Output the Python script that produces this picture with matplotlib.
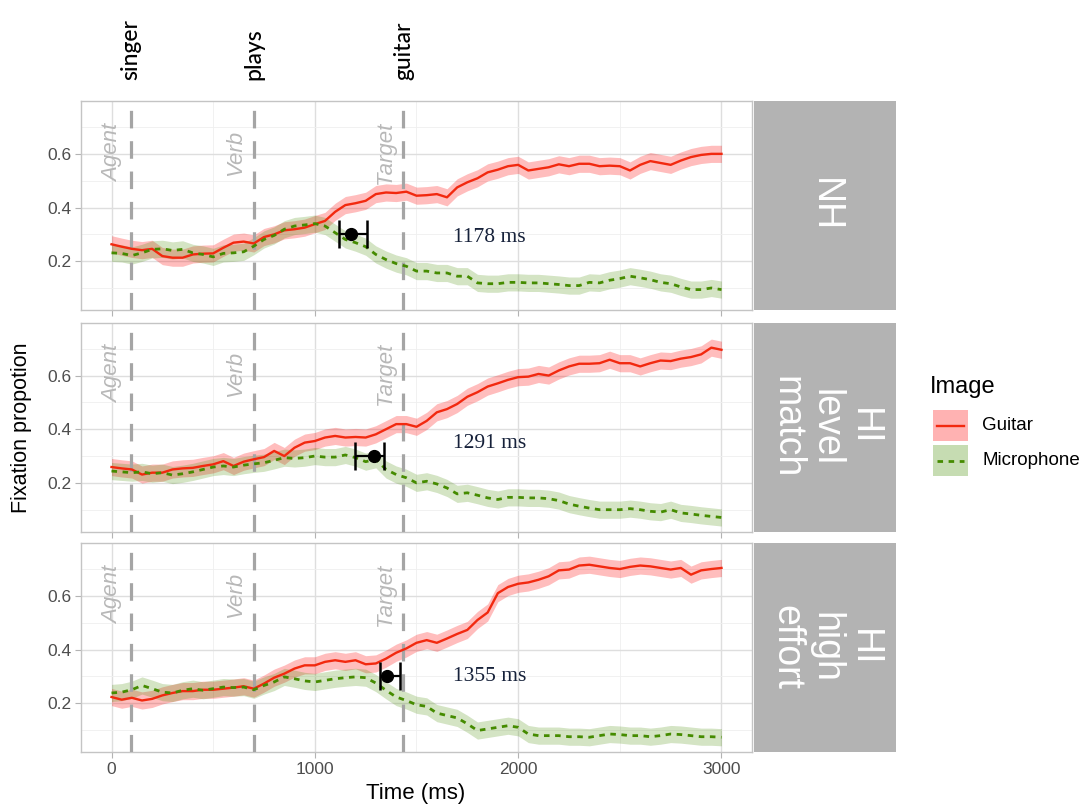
import numpy as np
import matplotlib
matplotlib.use("Agg")
import matplotlib.pyplot as plt
import matplotlib.transforms as mtransforms
from matplotlib.patches import Rectangle

plt.rcParams['font.family'] = ['Liberation Sans', 'DejaVu Sans']

# time bins (ms after sentence onset)
time_ms = np.arange(0, 3001, 50)

guitar_nh = [0.263, 0.254, 0.246, 0.241, 0.246, 0.219, 0.213, 0.213, 0.225, 0.228,
             0.229, 0.250, 0.269, 0.273, 0.266, 0.290, 0.300, 0.315, 0.319, 0.325,
             0.338, 0.350, 0.384, 0.409, 0.416, 0.425, 0.450, 0.456, 0.454, 0.459,
             0.444, 0.446, 0.450, 0.438, 0.475, 0.494, 0.509, 0.531, 0.541, 0.554,
             0.559, 0.538, 0.544, 0.550, 0.561, 0.554, 0.563, 0.563, 0.554, 0.556,
             0.554, 0.538, 0.559, 0.573, 0.566, 0.559, 0.575, 0.588, 0.596, 0.600, 0.600]
mic_nh = [0.231, 0.229, 0.221, 0.231, 0.244, 0.246, 0.240, 0.244, 0.231, 0.225,
          0.216, 0.229, 0.231, 0.235, 0.256, 0.281, 0.296, 0.319, 0.331, 0.335,
          0.340, 0.331, 0.306, 0.281, 0.269, 0.254, 0.225, 0.206, 0.191, 0.181,
          0.163, 0.163, 0.156, 0.156, 0.144, 0.144, 0.119, 0.116, 0.116, 0.121,
          0.121, 0.119, 0.119, 0.116, 0.113, 0.109, 0.109, 0.121, 0.119, 0.129,
          0.135, 0.144, 0.138, 0.131, 0.121, 0.116, 0.104, 0.094, 0.094, 0.100, 0.094]

guitar_level = [0.259, 0.254, 0.250, 0.231, 0.238, 0.238, 0.250, 0.254, 0.256, 0.263,
                0.269, 0.281, 0.263, 0.279, 0.288, 0.296, 0.319, 0.300, 0.331, 0.350,
                0.356, 0.369, 0.375, 0.369, 0.371, 0.369, 0.381, 0.400, 0.419, 0.419,
                0.409, 0.431, 0.463, 0.475, 0.494, 0.521, 0.538, 0.559, 0.571, 0.584,
                0.594, 0.596, 0.606, 0.600, 0.619, 0.634, 0.644, 0.644, 0.646, 0.659,
                0.646, 0.646, 0.634, 0.646, 0.656, 0.654, 0.663, 0.669, 0.679, 0.704, 0.696]
mic_level = [0.244, 0.241, 0.238, 0.241, 0.234, 0.238, 0.229, 0.234, 0.241, 0.250,
             0.259, 0.263, 0.259, 0.266, 0.271, 0.275, 0.284, 0.294, 0.291, 0.294,
             0.300, 0.296, 0.296, 0.304, 0.294, 0.279, 0.288, 0.250, 0.231, 0.219,
             0.200, 0.206, 0.196, 0.181, 0.159, 0.163, 0.154, 0.144, 0.138, 0.146,
             0.146, 0.144, 0.144, 0.141, 0.134, 0.121, 0.113, 0.106, 0.100, 0.100,
             0.100, 0.104, 0.100, 0.094, 0.091, 0.100, 0.088, 0.084, 0.079, 0.075, 0.071]

guitar_effort = [0.223, 0.213, 0.220, 0.210, 0.216, 0.229, 0.238, 0.245, 0.245, 0.250,
                 0.250, 0.254, 0.258, 0.263, 0.254, 0.273, 0.295, 0.310, 0.329, 0.341,
                 0.341, 0.354, 0.360, 0.354, 0.360, 0.345, 0.348, 0.366, 0.388, 0.404,
                 0.425, 0.435, 0.425, 0.441, 0.458, 0.473, 0.510, 0.538, 0.610, 0.633,
                 0.645, 0.650, 0.660, 0.673, 0.695, 0.698, 0.713, 0.716, 0.710, 0.704,
                 0.700, 0.708, 0.713, 0.710, 0.704, 0.698, 0.704, 0.679, 0.695, 0.700, 0.704]
mic_effort = [0.238, 0.241, 0.250, 0.266, 0.254, 0.241, 0.238, 0.248, 0.254, 0.248,
              0.254, 0.260, 0.258, 0.260, 0.250, 0.266, 0.279, 0.298, 0.291, 0.283,
              0.279, 0.285, 0.291, 0.295, 0.298, 0.295, 0.275, 0.248, 0.223, 0.210,
              0.194, 0.188, 0.163, 0.154, 0.145, 0.123, 0.098, 0.104, 0.110, 0.116,
              0.110, 0.085, 0.079, 0.079, 0.079, 0.075, 0.075, 0.073, 0.079, 0.085,
              0.083, 0.079, 0.079, 0.075, 0.079, 0.085, 0.083, 0.079, 0.075, 0.075, 0.073]

ci_half = 0.032

panel_names = ['NH', 'HI\nlevel\nmatch', 'HI\nhigh\neffort']
guitar_series = [guitar_nh, guitar_level, guitar_effort]
mic_series = [mic_nh, mic_level, mic_effort]

# word onsets in the sentence
word_onsets = [95, 702, 1436]
word_labels = ['singer', 'plays', 'guitar']
region_labels = ['Agent', 'Verb', 'Target']

# divergence point estimates with bootstrap intervals
divergence_ms = [1178, 1291, 1355]
divergence_lo = [1117, 1198, 1320]
divergence_hi = [1259, 1340, 1418]
divergence_y = 0.3
label_y = [0.29, 0.345, 0.30]

RED = '#F2290F'
GREEN = '#458B00'
W, H = 1083, 807

fig = plt.figure(figsize=(W / 100, H / 100), dpi=100)

panel_px = [(101, 310), (322.7, 531.7), (543, 752)]
left_px, right_px = 81, 752
axes = []
for i, (top, bot) in enumerate(panel_px):
    rect = [left_px / W, 1 - bot / H, (right_px - left_px) / W, (bot - top) / H]
    ax = fig.add_axes(rect)
    axes.append(ax)

    ax.set_xlim(-150, 3150)
    ax.set_ylim(0.018, 0.797)
    ax.set_xticks([0, 1000, 2000, 3000])
    ax.set_xticks([500, 1500, 2500], minor=True)
    ax.set_yticks([0.2, 0.4, 0.6])
    ax.set_yticks([0.1, 0.3, 0.5, 0.7], minor=True)
    ax.grid(which='major', color='#DEDEDE', lw=1.0)
    ax.grid(which='minor', color='#EFEFEF', lw=0.6)
    ax.set_axisbelow(True)
    for sp in ax.spines.values():
        sp.set_color('#C4C4C4')
        sp.set_linewidth(1.0)
    ax.tick_params(which='major', color='#B3B3B3', length=4, width=0.8,
                   labelcolor='#4D4D4D', labelsize=12.5, pad=3)
    ax.tick_params(which='minor', length=0)
    if i < 2:
        ax.tick_params(axis='x', labelbottom=False)

    g = np.array(guitar_series[i])
    m = np.array(mic_series[i])
    ax.fill_between(time_ms, g - ci_half, g + ci_half, color='red', alpha=0.26, lw=0, zorder=2)
    ax.fill_between(time_ms, m - ci_half, m + ci_half, color=GREEN, alpha=0.23, lw=0, zorder=2)

    for x, lab in zip(word_onsets, region_labels):
        ax.axvline(x, color='#A5A5A5', lw=2.3, dashes=(5.5, 4), zorder=3)
        ax.text(x - 90, 0.605, lab, rotation=90, ha='center', va='center',
                style='italic', color='#B8B8B8', fontsize=16, zorder=3)

    ax.plot(time_ms, g, color=RED, lw=1.7, zorder=4)
    ax.plot(time_ms, m, color=GREEN, lw=2.0, dashes=(2, 2), zorder=4)

    d = divergence_ms[i]
    ax.errorbar([d], [divergence_y], xerr=[[d - divergence_lo[i]], [divergence_hi[i] - d]],
                fmt='o', color='black', ms=8.5, elinewidth=1.6, capsize=10, capthick=1.8,
                zorder=5)
    ax.text(1860, label_y[i], f'{d} ms', family=['Liberation Serif', 'DejaVu Serif'],
            fontsize=15.5, color='#16213A', ha='center', va='center', zorder=5)

    # facet strip
    sax = fig.add_axes([754 / W, 1 - bot / H, (896 - 754) / W, (bot - top) / H])
    sax.set_facecolor('#B3B3B3')
    sax.set_xticks([])
    sax.set_yticks([])
    for sp in sax.spines.values():
        sp.set_visible(False)
    sax.text(0.5, 0.5, panel_names[i], rotation=-90, ha='center', va='center',
             multialignment='center', color='white', fontsize=27, linespacing=1.1,
             transform=sax.transAxes)

# sentence words above the first panel
trans = mtransforms.blended_transform_factory(axes[0].transData, axes[0].transAxes)
for x, w in zip(word_onsets, word_labels):
    axes[0].text(x, 1.1, w, transform=trans, rotation=90, ha='center', va='bottom',
                 family=['Lato', 'DejaVu Sans'], fontsize=16.5, fontweight='medium',
                 color='black', clip_on=False)

fig.text(22 / W, 1 - 428 / H, 'Fixation propotion', rotation=90, ha='center', va='center',
         fontsize=15.5, color='black')
fig.text(416 / W, 1 - 793 / H, 'Time (ms)', ha='center', va='center', fontsize=16,
         color='black')

# legend drawn in pixel space
lax = fig.add_axes([0, 0, 1, 1])
lax.set_xlim(0, W)
lax.set_ylim(H, 0)
lax.axis('off')
lax.text(930, 387, 'Image', ha='left', va='center', fontsize=17)
lax.add_patch(Rectangle((933, 410), 35, 31, facecolor='red', alpha=0.3, lw=0))
lax.plot([937, 964], [425.5, 425.5], color=RED, lw=1.7)
lax.add_patch(Rectangle((933, 445), 35, 31, facecolor=GREEN, alpha=0.3, lw=0))
lax.plot([937, 964], [460.5, 460.5], color=GREEN, lw=2.0, dashes=(2, 2))
lax.text(982, 425.5, 'Guitar', ha='left', va='center', fontsize=13.5)
lax.text(982, 460.5, 'Microphone', ha='left', va='center', fontsize=13.5)

fig.savefig('out.png', dpi=100)
